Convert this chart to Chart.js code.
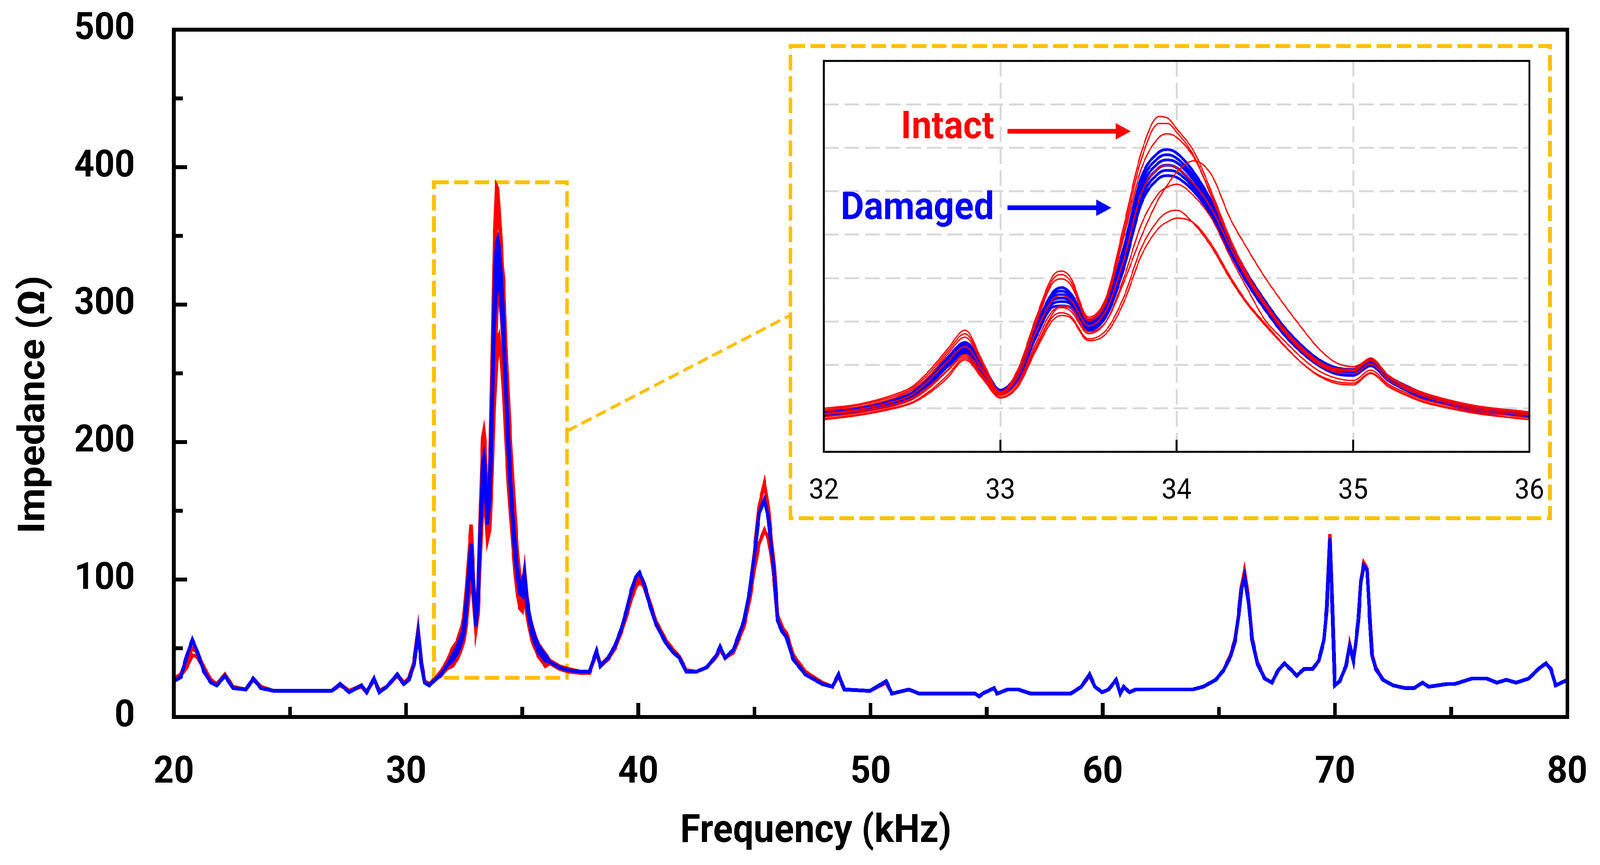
<!DOCTYPE html>
<html>
<head>
<meta charset="utf-8">
<script src="https://cdn.jsdelivr.net/npm/chart.js@4.4.1/dist/chart.umd.min.js"></script>
<style>
html,body{margin:0;padding:0;background:#ffffff;overflow:hidden;}
#wrap{position:absolute;left:0;top:0;width:4354px;height:2215px;overflow:hidden;background:#ffffff;transform-origin:0 0;}
canvas{position:absolute;left:0;top:0;}
</style>
</head>
<body>
<div id="wrap">
<canvas id="mainChart" width="4354" height="2215"></canvas>
<canvas id="insetChart" width="4354" height="2215"></canvas>
</div>
<script>
// ---------------- text ----------------
const xTitle = 'Frequency (kHz)';
const yTitle = 'Impedance (\u03A9)';
const labelIntact = 'Intact';
const labelDamaged = 'Damaged';

// ---------------- main plot: 20 - 32 kHz ----------------
const freqLeft = [20.0, 20.3, 20.55, 20.8, 21.0, 21.3, 21.6, 21.85, 22.2, 22.55,
                  23.1, 23.42, 23.75, 24.3, 26.8, 27.16, 27.55, 28.08, 28.3, 28.62,
                  28.85, 29.17, 29.62, 29.9, 30.12, 30.34, 30.52, 30.66, 30.8, 31.0,
                  31.25, 31.5, 31.75];
const damagedLeft = [26, 29, 44, 56, 48, 33, 25, 23, 30, 21,
                     20, 28, 21, 19, 19, 24, 18, 23, 18, 28,
                     18, 22, 31, 24, 27, 38, 62, 38, 25, 23,
                     27, 31, 37];
const intactLeftA = [28, 31, 42, 50, 47, 36, 27, 24, 31, 22,
                     20, 28, 22, 19, 19, 24, 19, 23, 18, 28,
                     19, 22, 31, 25, 28, 40, 64, 40, 26, 24,
                     28, 33, 40];
const intactLeftB = [27, 30, 36, 45, 44, 35, 27, 24, 30, 22,
                     20, 27, 22, 19, 19, 23, 19, 22, 18, 27,
                     19, 22, 30, 24, 27, 38, 60, 39, 26, 23,
                     27, 30, 35];

// ---------------- zoomed band: 32 - 36 kHz (inset + main) ----------------
const freqInset = [32.0, 32.2, 32.4, 32.5, 32.6, 32.7, 32.8, 32.9, 33.0, 33.1,
                   33.2, 33.3, 33.35, 33.4, 33.5, 33.6, 33.7, 33.8, 33.9, 33.95,
                   34.0, 34.1, 34.2, 34.3, 34.4, 34.5, 34.6, 34.7, 34.8, 34.9,
                   35.0, 35.1, 35.2, 35.3, 35.4, 35.5, 35.7, 36.0];
const intact1 = [50, 55, 66, 75, 94, 118, 140, 104, 69, 95, 153, 203, 208, 200, 155, 178, 260, 345, 386, 384, 372, 345, 298, 247, 205, 172, 144, 122, 105, 96, 95, 108, 88, 76, 68, 62, 53, 46];
const intact2 = [48, 54, 64, 73, 91, 115, 136, 102, 69, 93, 149, 199, 204, 196, 153, 175, 253, 337, 378, 378, 368, 340, 292, 243, 202, 170, 142, 121, 104, 95, 94, 106, 87, 75, 67, 61, 52, 45];
const intact3 = [47, 52, 62, 71, 88, 112, 132, 100, 68, 91, 146, 195, 199, 192, 151, 172, 247, 326, 362, 366, 362, 338, 294, 245, 203, 170, 142, 120, 103, 94, 93, 105, 86, 74, 66, 60, 51, 44];
const intact4 = [44, 49, 58, 66, 83, 104, 121, 95, 67, 87, 137, 176, 180, 175, 145, 163, 221, 298, 327, 330, 327, 308, 279, 237, 199, 168, 140, 118, 101, 92, 90, 101, 83, 72, 64, 58, 49, 42];
const intact5 = [43, 47, 55, 62, 76, 94, 112, 92, 66, 80, 120, 160, 168, 166, 138, 150, 195, 248, 292, 308, 322, 335, 318, 270, 234, 201, 172, 145, 120, 103, 98, 106, 88, 76, 68, 61, 52, 44];
const intact6 = [40, 45, 53, 60, 74, 93, 110, 88, 65, 80, 124, 163, 166, 162, 136, 150, 200, 262, 298, 305, 308, 294, 268, 226, 188, 152, 130, 110, 94, 85, 82, 94, 78, 68, 60, 55, 47, 39];
const intact7 = [38, 43, 51, 57, 70, 88, 108, 86, 63, 77, 119, 156, 160, 156, 130, 140, 178, 235, 268, 276, 278, 262, 235, 200, 170, 146, 124, 104, 89, 81, 79, 91, 76, 66, 58, 53, 45, 37];
const intact8 = [37, 42, 50, 56, 68, 85, 106, 84, 62, 75, 116, 152, 157, 154, 128, 136, 172, 226, 258, 265, 269, 263, 238, 203, 172, 148, 125, 104, 88, 79, 77, 90, 75, 65, 57, 52, 44, 37];
const damaged1 = [45, 51, 60, 68, 86, 108, 126, 100, 71, 91, 143, 184, 189, 182, 151, 170, 235, 316, 345, 348, 344, 321, 287, 243, 205, 174, 146, 124, 107, 97, 95, 106, 87, 76, 67, 61, 52, 45];
const damaged2 = [44, 50, 59, 67, 84, 106, 123, 98, 70, 90, 141, 181, 185, 179, 149, 167, 230, 310, 339, 342, 338, 316, 283, 240, 202, 172, 144, 122, 105, 95, 93, 104, 86, 75, 66, 60, 51, 44];
const damaged3 = [44, 49, 58, 66, 83, 104, 121, 96, 69, 88, 139, 178, 181, 176, 147, 165, 226, 304, 333, 336, 333, 312, 280, 238, 200, 170, 142, 121, 104, 94, 92, 103, 85, 74, 65, 59, 50, 43];
const damaged4 = [43, 48, 57, 65, 82, 102, 119, 95, 68, 87, 137, 175, 177, 173, 145, 162, 221, 298, 327, 330, 327, 307, 277, 235, 198, 168, 141, 120, 103, 93, 91, 102, 84, 73, 64, 58, 49, 42];
const damaged5 = [42, 47, 56, 64, 80, 100, 116, 93, 67, 85, 134, 171, 173, 170, 142, 159, 216, 292, 321, 324, 322, 303, 274, 233, 196, 166, 139, 118, 101, 92, 90, 101, 83, 72, 63, 57, 48, 42];
const damaged6 = [41, 46, 55, 62, 78, 98, 113, 91, 66, 84, 131, 167, 168, 166, 140, 156, 211, 286, 315, 318, 316, 299, 271, 231, 194, 164, 137, 116, 100, 90, 88, 99, 82, 71, 62, 56, 47, 41];

// ---------------- main plot: 36 - 80 kHz ----------------
const freqRight = [36.2, 36.6, 37.0, 37.5, 37.9, 38.2, 38.37, 38.7, 39.0, 39.27,
                   39.5, 39.7, 39.9, 40.05, 40.25, 40.45, 40.75, 41.18, 41.5, 41.77,
                   42.06, 42.5, 42.94, 43.37, 43.52, 43.74, 44.1, 44.55, 44.8, 45.0,
                   45.2, 45.43, 45.6, 45.72, 45.85, 46.0, 46.2, 46.38, 46.67, 47.19,
                   47.92, 48.36, 48.62, 48.87, 49.97, 50.67, 50.92, 51.65, 52.1, 54.5,
                   54.68, 54.82, 55.32, 55.45, 55.9, 56.36, 56.9, 58.62, 59.07, 59.43,
                   59.66, 59.97, 60.25, 60.57, 60.75, 60.9, 61.15, 61.42, 63.87, 64.32,
                   64.86, 65.2, 65.5, 65.69, 65.85, 65.96, 66.1, 66.28, 66.43, 66.65,
                   66.97, 67.28, 67.55, 67.82, 68.13, 68.35, 68.67, 69.04, 69.3, 69.52,
                   69.64, 69.78, 69.89, 69.99, 70.2, 70.47, 70.63, 70.79, 70.88, 71.0,
                   71.11, 71.24, 71.38, 71.48, 71.59, 71.75, 72.07, 72.5, 73.02, 73.4,
                   73.77, 74.03, 74.83, 75.15, 75.9, 76.53, 76.96, 77.38, 77.8, 78.34,
                   78.76, 79.08, 79.29, 79.5, 80.0];
const damagedRight = [40, 36, 34, 33, 33, 48, 37, 43, 52, 64,
                      78, 92, 102, 105, 97, 84, 68, 54, 47, 43,
                      33, 33, 36, 45, 51, 43, 49, 70, 92, 118,
                      148, 158, 145, 125, 105, 70, 62, 58, 42, 31,
                      24, 22, 31, 20, 19, 26, 17, 20, 17, 17,
                      15, 17, 21, 17, 20, 20, 17, 17, 22, 31,
                      22, 18, 20, 27, 17, 22, 18, 20, 20, 22,
                      27, 34, 44, 55, 74, 92, 102, 83, 56, 39,
                      28, 25, 34, 39, 34, 30, 35, 35, 41, 56,
                      78, 130, 78, 23, 26, 37, 52, 41, 52, 70,
                      98, 110, 107, 76, 45, 35, 27, 23, 21, 21,
                      25, 22, 24, 24, 28, 28, 25, 27, 25, 28,
                      35, 39, 35, 23, 27];
const intactRightA = [41, 37, 35, 33, 33, 48, 38, 43, 51, 63,
                      76, 89, 98, 101, 97, 86, 70, 56, 49, 44,
                      34, 33, 36, 45, 50, 43, 48, 68, 92, 120,
                      153, 170, 152, 130, 110, 74, 65, 61, 45, 33,
                      25, 22, 31, 20, 19, 26, 17, 20, 17, 17,
                      15, 17, 21, 17, 20, 20, 17, 17, 22, 31,
                      22, 18, 20, 27, 17, 22, 18, 20, 20, 22,
                      27, 34, 45, 56, 75, 94, 106, 85, 57, 40,
                      28, 25, 34, 39, 34, 30, 35, 35, 41, 56,
                      79, 133, 79, 23, 26, 37, 53, 41, 52, 70,
                      99, 112, 108, 77, 46, 36, 27, 23, 21, 21,
                      25, 22, 24, 24, 28, 28, 25, 27, 25, 28,
                      35, 39, 35, 23, 27];
const intactRightB = [39, 35, 33, 32, 32, 47, 37, 42, 50, 62,
                      74, 86, 95, 98, 95, 84, 69, 55, 48, 43,
                      34, 33, 36, 44, 49, 43, 47, 66, 86, 108,
                      126, 136, 130, 118, 100, 70, 62, 58, 43, 32,
                      24, 22, 30, 20, 19, 25, 17, 20, 17, 17,
                      15, 17, 21, 17, 20, 20, 17, 17, 22, 30,
                      22, 18, 20, 27, 17, 22, 18, 20, 20, 22,
                      27, 34, 44, 55, 74, 92, 103, 83, 56, 39,
                      28, 25, 34, 39, 34, 30, 35, 35, 41, 56,
                      78, 131, 78, 23, 26, 37, 52, 41, 52, 70,
                      98, 110, 107, 76, 45, 35, 27, 23, 21, 21,
                      25, 22, 24, 24, 28, 28, 25, 27, 25, 28,
                      35, 39, 35, 23, 27];

// zoom window marked on the main plot (data units) and the annotation arrows (inset data units)
const zoomBox = {x0: 31.2, x1: 36.93, y0: 28.5, y1: 389, linkY: 208};
const intactArrow = {x0: 33.04, x1: 33.74, y: 369, textX: 32.965, textY: 361};
const damagedArrow = {x0: 33.04, x1: 33.63, y: 281, textX: 32.965, textY: 268};

// ---------------- colours ----------------
const RED = '#FF0000';
const BLUE = '#0000FF';
const GOLD = '#FFC000';

// ---------------- fit the 4354x2215 drawing to the actual viewport ----------------
(function fitPage() {
  const wrap = document.getElementById('wrap');
  const sx = (window.innerWidth || 4354) / 4354;
  const sy = (window.innerHeight || 2215) / 2215;
  wrap.style.transform = 'scale(' + sx + ',' + sy + ')';
})();

// ---------------- build datasets ----------------
const intactSeries = [intact1, intact2, intact3, intact4, intact5, intact6, intact7, intact8];
const damagedSeries = [damaged1, damaged2, damaged3, damaged4, damaged5, damaged6];
function pts(xs, ys) { return xs.map((x, i) => ({x: x, y: ys[i]})); }

const mainDatasets = [];
damagedSeries.forEach((s, i) => {
  mainDatasets.push({
    label: labelDamaged + ' ' + (i + 1),
    data: [].concat(pts(freqLeft, damagedLeft), pts(freqInset, s), pts(freqRight, damagedRight)),
    borderColor: BLUE, borderWidth: 9, pointRadius: 0, tension: 0, order: 0, fill: false
  });
});
intactSeries.forEach((s, i) => {
  const L = i < 4 ? intactLeftA : intactLeftB;
  const R = i < 4 ? intactRightA : intactRightB;
  mainDatasets.push({
    label: labelIntact + ' ' + (i + 1),
    data: [].concat(pts(freqLeft, L), pts(freqInset, s), pts(freqRight, R)),
    borderColor: RED, borderWidth: 9, pointRadius: 0, tension: 0, order: 1, fill: false
  });
});

const insetDatasets = [];
intactSeries.forEach((s, i) => {
  insetDatasets.push({
    label: labelIntact + ' ' + (i + 1), data: pts(freqInset, s),
    borderColor: RED, borderWidth: 3.5, pointRadius: 0, cubicInterpolationMode: 'monotone', order: 0, fill: false
  });
});
damagedSeries.forEach((s, i) => {
  insetDatasets.push({
    label: labelDamaged + ' ' + (i + 1), data: pts(freqInset, s),
    borderColor: BLUE, borderWidth: 7, pointRadius: 0, cubicInterpolationMode: 'monotone', order: 1, fill: false
  });
});

// ---------------- main chart ----------------
const boldFont = (size) => ({family: 'Roboto', size: size, weight: 'bold'});
// invisible tick marks are used as the label gap so that the scale padding stays small
const gapGrid = (len) => ({display: true, drawOnChartArea: false, drawTicks: true, tickLength: len, tickColor: 'rgba(0,0,0,0)', lineWidth: 0});

const mainDecor = {
  id: 'mainDecor',
  beforeDatasetsDraw(chart) {
    const {ctx, scales: {x, y}} = chart;
    ctx.save();
    ctx.strokeStyle = GOLD; ctx.lineWidth = 10; ctx.setLineDash([40, 15]);
    const l = x.getPixelForValue(zoomBox.x0), r = x.getPixelForValue(zoomBox.x1);
    const t = y.getPixelForValue(zoomBox.y1), b = y.getPixelForValue(zoomBox.y0);
    ctx.strokeRect(l, t, r - l, b - t);
    ctx.restore();
  },
  afterDraw(chart) {
    const {ctx, chartArea: a, scales: {x, y}} = chart;
    ctx.save();
    ctx.strokeStyle = '#000'; ctx.lineWidth = 10; ctx.setLineDash([]);
    ctx.strokeRect(a.left, a.top, a.right - a.left, a.bottom - a.top);
    for (let v = 25; v < 80; v += 5) {
      const px = x.getPixelForValue(v);
      const len = (v % 10 === 0) ? 36 : 26;
      ctx.beginPath(); ctx.moveTo(px, a.bottom); ctx.lineTo(px, a.bottom - len); ctx.stroke();
    }
    for (let v = 50; v < 500; v += 50) {
      const py = y.getPixelForValue(v);
      const len = (v % 100 === 0) ? 36 : 24;
      ctx.beginPath(); ctx.moveTo(a.left, py); ctx.lineTo(a.left + len, py); ctx.stroke();
    }
    ctx.fillStyle = '#000';
    ctx.font = 'bold 100px Roboto';
    ctx.textAlign = 'center'; ctx.textBaseline = 'alphabetic';
    ctx.fillText(xTitle, 2220, 2156);
    ctx.translate(120, 1036); ctx.rotate(-Math.PI / 2);
    ctx.fillText(yTitle, 0, 0);
    ctx.restore();
  }
};

const mainChart = new Chart(document.getElementById('mainChart'), {
  type: 'line',
  data: {datasets: mainDatasets},
  options: {
    responsive: false, animation: false, devicePixelRatio: 1,
    layout: {padding: {left: 0, top: 76, right: 89, bottom: 0}},
    plugins: {legend: {display: false}, tooltip: {enabled: false}},
    scales: {
      x: {
        type: 'linear', min: 20, max: 80,
        afterFit(s) { s.height = 379; },
        grid: gapGrid(86), border: {display: false},
        ticks: {stepSize: 10, autoSkip: false, maxRotation: 0, padding: 0, color: '#000', font: boldFont(96)}
      },
      y: {
        type: 'linear', min: 0, max: 500,
        afterFit(s) { s.width = 473; },
        grid: gapGrid(106), border: {display: false},
        ticks: {stepSize: 100, padding: 0, color: '#000', font: boldFont(96)}
      }
    }
  },
  plugins: [mainDecor]
});

// ---------------- inset chart ----------------
function drawArrow(ctx, x0, x1, y, color, headLen, headHalf, shaft) {
  ctx.fillStyle = color;
  ctx.fillRect(x0, y - shaft / 2, (x1 - headLen) - x0, shaft);
  ctx.beginPath();
  ctx.moveTo(x1 - headLen - 1, y - headHalf);
  ctx.lineTo(x1, y);
  ctx.lineTo(x1 - headLen - 1, y + headHalf);
  ctx.closePath(); ctx.fill();
}

const insetDecor = {
  id: 'insetDecor',
  afterDraw(chart) {
    const {ctx, chartArea: a, scales: {x, y}} = chart;
    ctx.save();
    ctx.strokeStyle = '#000'; ctx.lineWidth = 5; ctx.setLineDash([]);
    ctx.strokeRect(a.left, a.top, a.right - a.left, a.bottom - a.top);
    [33, 34, 35].forEach(v => {
      const px = x.getPixelForValue(v);
      ctx.beginPath(); ctx.moveTo(px, a.bottom); ctx.lineTo(px, a.bottom - 31); ctx.stroke();
    });
    const bl = a.left - 91, bt = a.top - 38, br = a.right + 56, bb = a.bottom + 170;
    ctx.strokeStyle = GOLD; ctx.lineWidth = 10; ctx.setLineDash([40, 15]);
    ctx.strokeRect(bl, bt, br - bl, bb - bt);
    const mx = mainChart.scales.x.getPixelForValue(zoomBox.x1);
    const my = mainChart.scales.y.getPixelForValue(zoomBox.linkY);
    ctx.lineWidth = 8; ctx.setLineDash([30, 14]);
    ctx.beginPath(); ctx.moveTo(mx, my); ctx.lineTo(bl, bt + 689); ctx.stroke();
    ctx.setLineDash([]);
    ctx.font = 'bold 98px Roboto';
    ctx.textAlign = 'right'; ctx.textBaseline = 'alphabetic';
    ctx.fillStyle = RED;
    ctx.fillText(labelIntact, x.getPixelForValue(intactArrow.textX), y.getPixelForValue(intactArrow.textY));
    ctx.fillStyle = BLUE;
    ctx.fillText(labelDamaged, x.getPixelForValue(damagedArrow.textX), y.getPixelForValue(damagedArrow.textY));
    drawArrow(ctx, x.getPixelForValue(intactArrow.x0), x.getPixelForValue(intactArrow.x1), y.getPixelForValue(intactArrow.y), RED, 40, 21, 12);
    drawArrow(ctx, x.getPixelForValue(damagedArrow.x0), x.getPixelForValue(damagedArrow.x1), y.getPixelForValue(damagedArrow.y), BLUE, 40, 21, 12);
    ctx.restore();
  }
};

const insetChart = new Chart(document.getElementById('insetChart'), {
  type: 'line',
  data: {datasets: insetDatasets},
  options: {
    responsive: false, animation: false, devicePixelRatio: 1,
    layout: {padding: {left: 0, top: 156, right: 192, bottom: 0}},
    plugins: {legend: {display: false}, tooltip: {enabled: false}},
    scales: {
      x: {
        type: 'linear', min: 32, max: 36,
        afterFit(s) { s.height = 1058; },
        grid: {display: true, color: '#D9D9D9', lineWidth: 5, drawTicks: false},
        border: {display: false, dash: [40, 16]},
        ticks: {stepSize: 1, autoSkip: false, maxRotation: 0, padding: 59, color: '#000', font: {family: 'Roboto', size: 72, weight: 'normal'}}
      },
      y: {
        type: 'linear', min: 0, max: 450,
        afterFit(s) { s.width = 2242; },
        grid: {display: true, color: '#D9D9D9', lineWidth: 5, drawTicks: false},
        border: {display: false, dash: [40, 16]},
        ticks: {stepSize: 50, display: false, padding: 0}
      }
    }
  },
  plugins: [insetDecor]
});
</script>
</body>
</html>
